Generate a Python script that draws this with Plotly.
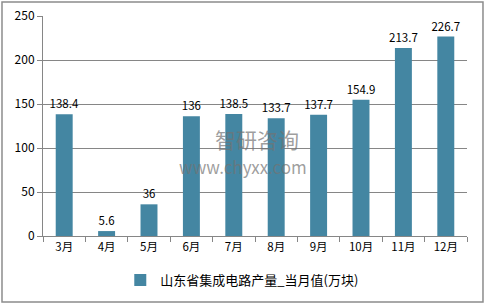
import plotly.graph_objects as go

categories = ["3月", "4月", "5月", "6月", "7月", "8月", "9月", "10月", "11月", "12月"]
values = [138.4, 5.6, 36, 136, 138.5, 133.7, 137.7, 154.9, 213.7, 226.7]
labels = ["138.4", "5.6", "36", "136", "138.5", "133.7", "137.7", "154.9", "213.7", "226.7"]
series_name = "山东省集成电路产量_当月值(万块)"
y_ticks = [0, 50, 100, 150, 200, 250]

FONT = "Noto Sans CJK SC, Microsoft YaHei, sans-serif"

fig = go.Figure()
fig.add_trace(go.Bar(
    x=categories, y=values, name=series_name,
    text=labels, textposition="outside", cliponaxis=False, constraintext="none",
    textfont=dict(size=11.5, color="#000000"),
    marker=dict(color="#4486a2", line=dict(width=0)),
    width=0.4, showlegend=True,
))

fig.update_layout(
    width=486, height=306,
    margin=dict(l=43, r=19, t=16, b=70, autoexpand=False),
    paper_bgcolor="white", plot_bgcolor="white",
    font=dict(family=FONT, size=11.5, color="#000000"),
    bargap=0.6,
    xaxis=dict(
        showline=True, linecolor="#868686", linewidth=1,
        ticks="outside", tickson="boundaries", ticklen=5, tickcolor="#868686",
        showgrid=False, tickfont=dict(size=11.5), automargin=False,
    ),
    yaxis=dict(
        range=[0, 250], tickvals=y_ticks, showline=True, linecolor="#868686", linewidth=1,
        ticks="outside", ticklen=5, tickcolor="#868686",
        showgrid=True, gridcolor="#868686", gridwidth=1, zeroline=False,
        tickfont=dict(size=12), automargin=False,
    ),
    legend=dict(orientation="h", x=0.47, xanchor="center", y=-0.2, yanchor="middle",
                font=dict(size=13), itemwidth=30),
    shapes=[dict(type="rect", xref="paper", yref="paper", x0=-0.0967, x1=1.0377,
                 y0=-0.3, y1=1.0636, line=dict(color="#8c8c8c", width=1.5), layer="below")],
    annotations=[
        dict(text="智研咨询", xref="paper", yref="paper", x=0.505, y=0.441, showarrow=False,
             xanchor="center", yanchor="middle",
             font=dict(size=21, color="rgba(115,115,115,0.7)")),
        dict(text="www.chyxx.com", xref="paper", yref="paper", x=0.472, y=0.318, showarrow=False,
             xanchor="center", yanchor="middle",
             font=dict(size=17, color="rgba(115,115,115,0.7)")),
    ],
)

fig.write_html("out.html")
